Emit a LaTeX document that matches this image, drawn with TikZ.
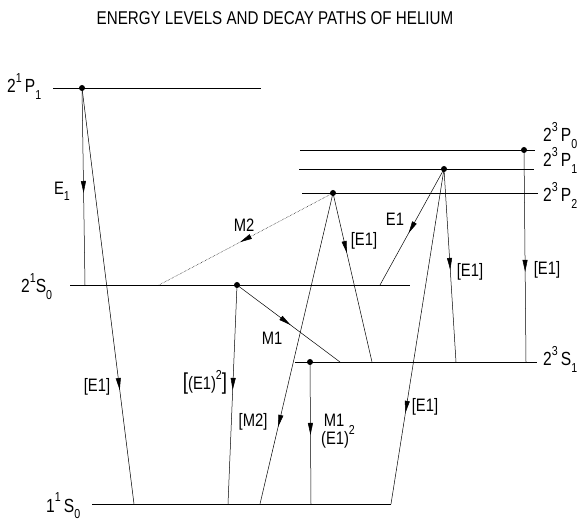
\documentclass[tikz,border=0pt]{standalone}
\usepackage{fontspec}
\setmainfont{Liberation Sans}[FakeStretch=0.82]
\usetikzlibrary{arrows.meta,decorations.markings}
\newcommand{\hi}[1]{\raisebox{0.55em}{\fontsize{13}{13}\selectfont #1}}
\newcommand{\lo}[1]{\raisebox{-0.35em}{\fontsize{13}{13}\selectfont #1}}
\begin{document}
\begin{tikzpicture}[x=1pt,y=-1pt,
  level/.style={line width=0.9pt},
  trans/.style={line width=0.5pt},
  arr/.style={postaction={decorate},decoration={markings,mark=at position #1 with {\arrow{Triangle[length=12pt,width=5pt]}}}},
  dotn/.style={circle,fill,inner sep=0pt,minimum size=6pt},
  lab/.style={font=\fontsize{18}{18}\selectfont, inner sep=0pt},
  lvl/.style={font=\fontsize{19}{19}\selectfont, inner sep=0pt, anchor=base west}]
\useasboundingbox (0,0) rectangle (584,521);
\node[font=\fontsize{18.5}{18.5}\selectfont, inner sep=0pt] (title) at (275,18) {ENERGY LEVELS AND DECAY PATHS OF HELIUM};
% level end points
\coordinate (P1a) at (53,88);  \coordinate (P1b) at (261,88);
\coordinate (S0a) at (70,285); \coordinate (S0b) at (410,285);
\coordinate (T0a) at (300,150); \coordinate (T0b) at (535,150);
\coordinate (T1a) at (299,169); \coordinate (T1b) at (534,169);
\coordinate (T2a) at (302,193); \coordinate (T2b) at (538,193);
\coordinate (S1a) at (295,362); \coordinate (S1b) at (537,362);
\coordinate (Ga) at (92,504);  \coordinate (Gb) at (391,504);
\foreach \a/\b in {P1a/P1b,S0a/S0b,T0a/T0b,T1a/T1b,T2a/T2b,S1a/S1b,Ga/Gb}
  \draw[level] (\a) -- (\b);
% level labels
\node[lvl] (l1) at (7,93) {2\hi{1}\,P\lo{1}};
\node[lvl] (l2) at (21,293) {2\hi{1}S\lo{0}};
\node[lvl] (l3) at (46,512) {1\hi{1}\,S\lo{0}};
\node[lvl] (l4) at (543,142) {2\hi{3}\,P\lo{0}};
\node[lvl] (l5) at (543,167) {2\hi{3}\,P\lo{1}};
\node[lvl] (l6) at (543,202) {2\hi{3}\,P\lo{2}};
\node[lvl] (l7) at (543,366) {2\hi{3}\,S\lo{1}};
% dots
\node[dotn] (d1) at (82,88) {};
\node[dotn] (d2) at (237,285) {};
\node[dotn] (d3) at (333,193) {};
\node[dotn] (d4) at (444,169) {};
\node[dotn] (d5) at (524,150) {};
\node[dotn] (d6) at (310,362) {};
% transition ends
\coordinate (e1) at (85,285);
\coordinate (e2) at (134,504);
\coordinate (e3) at (159,285);
\coordinate (e4) at (228,504);
\coordinate (e5) at (340,362);
\coordinate (e6) at (260,504);
\coordinate (e7) at (372,362);
\coordinate (e8) at (380,285);
\coordinate (e9) at (456,362);
\coordinate (e10) at (526,362);
\coordinate (e11) at (391,504);
\coordinate (e12) at (311,504);
% transitions
\draw[trans,arr=0.533] (d1.center) -- (e1);
\draw[trans,arr=0.726] (d1.center) -- (e2);
\draw[trans,densely dotted,arr=0.534] (d3.center) -- (e3);
\draw[trans,arr=0.479] (d2.center) -- (e4);
\draw[trans,arr=0.52] (d2.center) -- (e5);
\draw[trans,arr=0.752] (d3.center) -- (e6);
\draw[trans,arr=0.355] (d3.center) -- (e7);
\draw[trans,arr=0.552] (d4.center) -- (e8);
\draw[trans,arr=0.523] (d4.center) -- (e9);
\draw[trans,arr=0.575] (d5.center) -- (e10);
\draw[trans,arr=0.728] (d4.center) -- (e11);
\draw[trans,arr=0.514] (d6.center) -- (e12);
% transition labels
\node[lab] (t1) at (62,191) {E\lo{1}};
\node[lab] (t2) at (97,387) {[E1]};
\node[lab] (t3) at (244,225) {M2};
\node[lab] (t4) at (205,382) {\fontsize{23}{23}\selectfont[\fontsize{18}{18}\selectfont(E1)\hi{2}\fontsize{23}{23}\selectfont]};
\node[lab] (t5) at (272,338) {M1};
\node[lab] (t6) at (253,422) {[M2]};
\node[lab] (t7) at (364,241) {[E1]};
\node[lab] (t8) at (395,219) {E1};
\node[lab] (t9) at (470,272) {[E1]};
\node[lab] (t10) at (547,270) {[E1]};
\node[lab] (t11) at (425,407) {[E1]};
\node[lab] (t12) at (334,420) {M1};
\node[lab] (t13) at (338,437) {(E1)\hi{2}};
\end{tikzpicture}
\end{document}
